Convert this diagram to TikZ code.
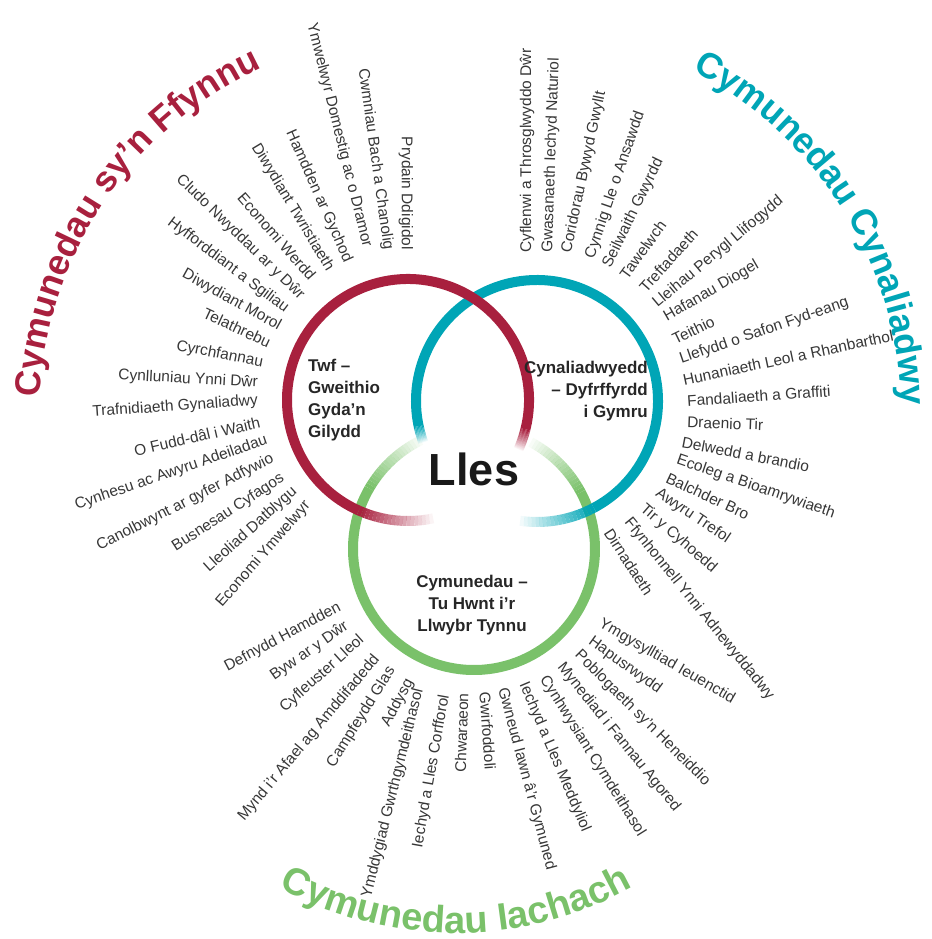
\documentclass[tikz,border=0pt]{standalone}
\usepackage{fontspec}
\setmainfont{Liberation Sans}
\usetikzlibrary{decorations.text}

\definecolor{twfred}{RGB}{168,32,62}
\definecolor{cynteal}{RGB}{0,165,182}
\definecolor{iagreen}{RGB}{122,193,106}
\definecolor{itemgray}{RGB}{55,55,55}
\newcommand\ttlfont{\fontsize{36}{36}\selectfont\bfseries}

\begin{document}
\begin{tikzpicture}[x=1pt,y=1pt,
  ring/.style={line width=10pt},
  item/.style={inner sep=0pt, text=itemgray, font=\fontsize{15.5}{15.5}\selectfont},
  hub/.style={inner sep=0pt, text=black!85, font=\fontsize{17}{22}\selectfont\bfseries}]
\useasboundingbox (0,0) rectangle (931,-939);

% the three rings, each fading out where it meets the next
\foreach \cx/\cy/\col/\s/\e/\ds/\de in {474/549/iagreen/150/388/34/34, 537/401/cynteal/-62/192/36/8, 408/400/twfred/-14/246/10/36}
{
  \draw[ring,\col] ([shift={(\cx,-\cy)}]\s:121) arc (\s:\e:121);
  \foreach \k [evaluate=\k as \op using 1-\k/20,
               evaluate=\k as \ea using \e+(\de)*\k/20,
               evaluate=\k as \eb using \e+(\de)*(\k+1)/20,
               evaluate=\k as \sa using \s-(\ds)*\k/20,
               evaluate=\k as \sb using \s-(\ds)*(\k+1)/20] in {0,...,19}
  {
    \draw[ring,\col,draw opacity=\op] ([shift={(\cx,-\cy)}]\ea:121) arc (\ea:\eb:121);
    \draw[ring,\col,draw opacity=\op] ([shift={(\cx,-\cy)}]\sa:121) arc (\sa:\sb:121);
  }
}

\node[inner sep=0pt, font=\fontsize{45}{45}\selectfont\bfseries, text=black!90] (lles) at (474,-469) {Lles};
\node[hub, align=left, anchor=west] (twf) at (308,-400) {Twf --\\Gweithio\\Gyda’n\\Gilydd};
\node[hub, align=right, anchor=east] (cyn) at (648,-391) {Cynaliadwyedd\\-- Dyfrffyrdd\\i Gymru};
\node[hub, align=center] (cym) at (472,-605) {Cymunedau --\\Tu Hwnt i’r\\Llwybr Tynnu};

% titles round the outside
\path[decorate, decoration={text along path, text align=center, text color=twfred,
  text={|\ttlfont|Cymunedau sy’n Ffynnu}}] ([shift={(424,-417)}]206:385) arc (206:86:385);
\path[decorate, decoration={text along path, text align=center, text color=cynteal,
  text={|\ttlfont|Cymunedau Cynaliadwy}}] ([shift={(516,-413)}]92:385) arc (92:-28:385);
\path[decorate, decoration={text along path, text align=center, text color=iagreen,
  text={|\fontsize{38}{38}\selectfont\bfseries|Cymunedau Iachach}}] ([shift={(456,-570)}]-150:363) arc (-150:-30:363);

% items read towards the rings on the left
\foreach \x/\y/\a/\t [count=\i] in {
  406/250/-90/Prydain Ddigidol,
  388/250/-82/Cwmniau Bach a Chanolig,
  367/247/-76/Ymwelwyr Domestig ac o Dramor,
  348/262/-66/Hamdden ar Gychod,
  330/270/-59/Diwydiant Twristiaeth,
  313/278/-49/Economi Werdd,
  302/297/-44/Cludo Nwyddau ar y Dŵr,
  287/310/-37/Hyfforddiant a Sgiliau,
  280/327/-29/Diwydiant Morol,
  270/343/-25/Telathrebu,
  263/363/-11/Cyrchfannau,
  258/383/-3/Cynlluniau Ynni Dŵr,
  258/401/4/Trafnidiaeth Gynaliadwy,
  260/422/13/O Fudd-dâl i Waith,
  267/440/19/Cynhesu ac Awyru Adeiladau,
  273/458/27/Canolbwynt ar gyfer Adfywio,
  283/477/33/Busnesau Cyfagos,
  295/490/42/Lleoliad Datblygu,
  308/503/49/Economi Ymwelwyr,
  340/607/28/Defnydd Hamdden,
  347/625/35/Byw ar y Dŵr,
  362/638/42/Cyfleuster Lleol,
  377/657/50/Mynd i’r Afael ag Amddifadedd,
  392/668/58/Campfeydd Glas,
  410/680/62/Addysg,
  419/689/76/Ymddygiad Gwrthgymdeithasol,
  445/695/80/Iechyd a Lles Corfforol,
  463/693/88/Chwaraeon}
  \node[item, anchor=east, rotate=\a] (lft\i) at (\x,-\y) {\t};

% items read away from the rings on the right
\foreach \x/\y/\a/\t [count=\i] in {
  485/692/-86/Gwirfoddoli,
  502/688/-75/Gwneud Iawn â’r Gymuned,
  523/683/-67/Iechyd a Lles Meddyliol,
  543/677/-58/Cynhwysiant Cymdeithasol,
  560/665/-51/Mynediad i Fannau Agored,
  577/653/-45/Poblogaeth sy’n Heneiddio,
  590/640/-36/Hapusrwydd,
  600/623/-30/Ymgysylltiad Ieuenctid,
  608/530/-57/Dirnadaeth,
  627/520/-51/Ffynhonnell Ynni Adnewyddadwy,
  642/507/-41/Tir y Cyhoedd,
  657/492/-34/Awyru Trefol,
  667/477/-25/Balchder Bro,
  677/460/-19/Ecoleg a Bioamrywiaeth,
  682/442/-11/Delwedd a brandio,
  687/422/-2/Draenio Tir,
  687/401/4/Fandaliaeth a Graffiti,
  683/380/12/Hunaniaeth Leol a Rhanbarthol,
  680/360/19/Llefydd o Safon Fyd-eang,
  673/340/26/Teithio,
  665/318/30/Hafanau Diogel,
  655/305/40/Lleihau Perygl Llifogydd,
  642/290/48/Treftadaeth,
  623/277/54/Tawelwch,
  607/267/64/Seilwaith Gwyrdd,
  590/258/71/Cynnig Lle o Ansawdd,
  567/253/78/Coridorau Bywyd Gwyllt,
  548/253/88/Gwasanaeth Iechyd Naturiol,
  527/253/90/Cyflenwi a Throsglwyddo Dŵr}
  \node[item, anchor=west, rotate=\a] (rgt\i) at (\x,-\y) {\t};
\end{tikzpicture}
\end{document}
